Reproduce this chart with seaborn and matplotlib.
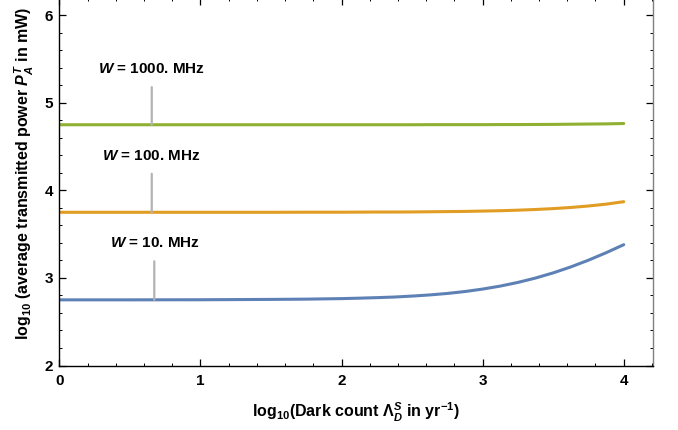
import numpy as np
import pandas as pd
import matplotlib
matplotlib.use("Agg")
import matplotlib.pyplot as plt
import seaborn as sns

# log10 of the dark count rate (x) and log10 of the transmitted power (y)
log_dark = [0.0, 0.5, 1.0, 1.25, 1.5, 1.75, 2.0, 2.125, 2.25, 2.375, 2.5, 2.625,
            2.75, 2.875, 3.0, 3.125, 3.25, 3.375, 3.5, 3.625, 3.75, 3.875, 4.0]
power_10mhz = [2.750, 2.750, 2.751, 2.753, 2.755, 2.758, 2.764, 2.769, 2.775, 2.782,
               2.793, 2.806, 2.823, 2.845, 2.873, 2.907, 2.949, 2.999, 3.058, 3.126,
               3.203, 3.288, 3.380]
power_100mhz = [3.750, 3.750, 3.750, 3.750, 3.750, 3.751, 3.751, 3.752, 3.753, 3.753,
                3.754, 3.756, 3.758, 3.760, 3.764, 3.768, 3.774, 3.782, 3.792, 3.805,
                3.822, 3.843, 3.871]
power_1000mhz = [4.750, 4.750, 4.750, 4.750, 4.750, 4.750, 4.750, 4.750, 4.750, 4.750,
                 4.750, 4.751, 4.751, 4.751, 4.751, 4.752, 4.752, 4.753, 4.754, 4.756,
                 4.758, 4.760, 4.764]
bandwidths = ["W = 10. MHz", "W = 100. MHz", "W = 1000. MHz"]
label_texts = [r"$W$ = 10. MHz", r"$W$ = 100. MHz", r"$W$ = 1000. MHz"]

colors = ["#5E81B5", "#E19C24", "#8FB032"]

sns.set_style("ticks")
plt.rcParams["font.family"] = ["Liberation Sans", "DejaVu Sans"]
plt.rcParams["font.weight"] = "bold"
plt.rcParams["text.color"] = "black"
plt.rcParams["axes.labelcolor"] = "black"
plt.rcParams["mathtext.fontset"] = "custom"
plt.rcParams["mathtext.rm"] = "Liberation Sans:bold"
plt.rcParams["mathtext.it"] = "Liberation Sans:italic:bold"
plt.rcParams["mathtext.bf"] = "Liberation Sans:bold"

df = pd.concat([
    pd.DataFrame({"x": log_dark, "y": vals, "W": name})
    for vals, name in zip([power_10mhz, power_100mhz, power_1000mhz], bandwidths)
])

fig = plt.figure(figsize=(6.78, 4.30), dpi=100)
ax = fig.add_axes([0.0875, 0.15, 0.8752, 0.8537])

sns.lineplot(data=df, x="x", y="y", hue="W", hue_order=bandwidths,
             palette=colors, linewidth=2.2, legend=False, ax=ax)

ax.set_xlim(0, 4.2055)
ax.set_ylim(2, 6.193)

# callout labels with thin grey leader lines down to each curve
label_pos = [(0.68, 3.40), (0.655, 4.39), (0.65, 5.39)]
leader_x = [0.673, 0.655, 0.655]
leader_top = [3.19, 4.19, 5.18]
for vals, txt, (tx, ty), lx, lt in zip([power_10mhz, power_100mhz, power_1000mhz],
                                       label_texts, label_pos, leader_x, leader_top):
    ax.text(tx, ty, txt, ha="center", va="center", fontsize=11,
            fontweight="bold", color="black")
    yc = np.interp(lx, log_dark, vals)
    ax.annotate("", xy=(lx, yc), xytext=(lx, lt),
                arrowprops=dict(arrowstyle="-", color="#b3b3b3", lw=1.6,
                                shrinkA=0, shrinkB=0))

ax.set_xticks([0, 1, 2, 3, 4])
ax.set_xticks(np.arange(0, 4.21, 0.2), minor=True)
ax.set_yticks([2, 3, 4, 5, 6])
ax.set_yticks(np.arange(2, 6.2, 0.2), minor=True)
ax.tick_params(which="both", direction="in", top=True, right=True, colors="black")
ax.tick_params(which="major", length=5.3, width=0.9, labelsize=11)
ax.tick_params(which="minor", length=2.4, width=0.7)
ax.tick_params(axis="x", which="major", pad=6)
ax.tick_params(axis="y", which="major", pad=4.5)
for lab in ax.get_xticklabels() + ax.get_yticklabels():
    lab.set_fontweight("bold")

for side in ["left", "bottom"]:
    ax.spines[side].set_color("black")
    ax.spines[side].set_linewidth(1.0)
for side in ["right", "top"]:
    ax.spines[side].set_color("#808080")
    ax.spines[side].set_linewidth(1.0)

ax.set_xlabel(r"log$_{10}$(Dark count Λ$_D^S$ in yr$^{-1}$)",
              fontsize=11.5, fontweight="bold")
ax.set_ylabel(r"log$_{10}$ (average transmitted power $P_A^T$ in mW)",
              fontsize=11.5, fontweight="bold")
ax.xaxis.set_label_coords(0.5, -0.095)
ax.yaxis.set_label_coords(-0.040, 0.522)

fig.savefig("out.png", dpi=100)
